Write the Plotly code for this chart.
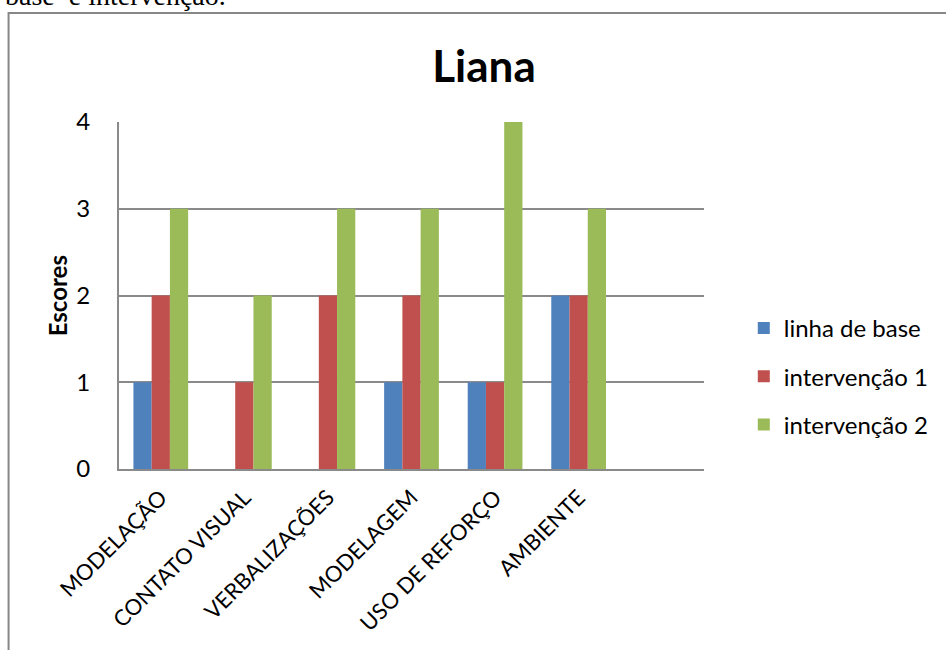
import plotly.graph_objects as go

# Categories and scores per phase
categorias = ["MODELAÇÃO", "CONTATO VISUAL", "VERBALIZAÇÕES", "MODELAGEM", "USO DE REFORÇO", "AMBIENTE"]
linha_de_base = [1, 0, 0, 1, 1, 2]
intervencao_1 = [2, 1, 2, 2, 1, 2]
intervencao_2 = [3, 2, 3, 3, 4, 3]
y_ticks = [0, 1, 2, 3, 4]

series = [
    ("linha de base", linha_de_base, "#4F81BD"),
    ("intervenção 1", intervencao_1, "#C0504D"),
    ("intervenção 2", intervencao_2, "#9BBB59"),
]

W, H = 946, 650
L, R, T, B = 119, 707, 122, 469  # plot area in pixels


def px_x(x):
    return (x - L) / (R - L)


def px_y(y):
    return (B - y) / (B - T)


FONT = "Lato, Calibri, sans-serif"
GRID = "#8A8A8A"
FS = 24

positions = list(range(len(categorias)))

fig = go.Figure()
for i, (name, vals, color) in enumerate(series):
    fig.add_trace(go.Bar(
        x=positions, y=vals, name=name,
        marker=dict(color=color, line=dict(width=0)),
        legendgroup=f"g{i}",
    ))

fig.update_layout(
    width=W, height=H, autosize=False,
    margin=dict(l=L, r=W - R, t=T, b=H - B, pad=0),
    paper_bgcolor="white", plot_bgcolor="white",
    barmode="group", bargap=0.345, bargroupgap=0,
    font=dict(family=FONT, size=FS, color="black"),
    title=dict(
        text="<b>Liana</b>", font=dict(family=FONT, size=44, color="black"),
        xref="container", yref="container",
        x=484 / W, y=1 - 67 / H, xanchor="center", yanchor="middle",
    ),
    xaxis=dict(
        range=[-0.5, len(categorias) + 0.5], automargin=False,
        tickmode="array", tickvals=positions, ticktext=categorias,
        tickangle=-45, showgrid=False, zeroline=False,
        showline=True, linecolor=GRID, linewidth=2,
        ticks="", ticklabelstandoff=5, tickfont=dict(family=FONT, size=22),
    ),
    yaxis=dict(
        range=[0, 4], tickmode="array", tickvals=y_ticks, automargin=False,
        showgrid=True, gridcolor=GRID, gridwidth=2,
        zeroline=False, showline=True, linecolor=GRID, linewidth=2,
        ticks="", ticklabelstandoff=22, tickfont=dict(family=FONT, size=FS),
    ),
    legend=dict(
        x=px_x(747), y=px_y(306), xanchor="left", yanchor="top",
        traceorder="grouped", tracegroupgap=14,
        font=dict(family=FONT, size=FS), bgcolor="rgba(0,0,0,0)",
    ),
    showlegend=True,
)

# Y-axis title
fig.add_annotation(
    text="<b>Escores</b>", textangle=-90,
    xref="paper", yref="paper", x=px_x(57), y=px_y(296),
    xanchor="center", yanchor="middle", showarrow=False,
    font=dict(family=FONT, size=FS, color="black"),
)

# Running text of the page above the chart frame
fig.add_annotation(
    text="base  e intervenção.",
    xref="paper", yref="paper", x=px_x(2), y=px_y(13),
    xanchor="left", yanchor="bottom", showarrow=False,
    font=dict(family="Liberation Serif, Times New Roman, serif", size=28, color="black"),
)

# Chart frame
fig.add_shape(
    type="rect", xref="paper", yref="paper",
    x0=px_x(8), x1=px_x(990), y0=px_y(700), y1=px_y(13),
    line=dict(color="#878787", width=2), fillcolor="rgba(0,0,0,0)", layer="below",
)

fig.write_html("out.html")
